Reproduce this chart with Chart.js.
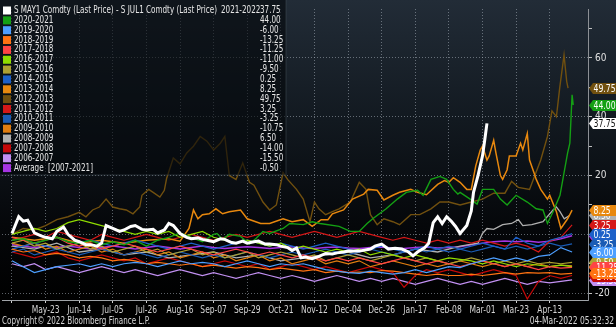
<!DOCTYPE html>
<html>
<head>
<meta charset="utf-8">
<script src="https://cdn.jsdelivr.net/npm/chart.js@4.4.0/dist/chart.umd.min.js"></script>
<style>
  html, body { margin: 0; padding: 0; background: #000; }
</style>
</head>
<body>
<canvas id="spread" width="616" height="327"></canvas>
<script>
// x axis = trading day of the season, one date label every 15 trading days
var xLabels = ["", "May-23", "Jun-14", "Jul-05", "Jul-26", "Aug-16", "Sep-07", "Sep-29", "Oct-21",
               "Nov-12", "Dec-04", "Dec-26", "Jan-17", "Feb-08", "Mar-01", "Mar-23", "Apr-13"];
var labelEvery = 15;
var yTicks = [-20, -10, 0, 10, 20, 30, 40, 50, 60, 70];
var step = 5; // spacing of the weekly series below

var seasons = ["2021-2022", "2020-2021", "2019-2020", "2018-2019", "2017-2018", "2016-2017", "2015-2016",
               "2014-2015", "2013-2014", "2012-2013", "2011-2012", "2010-2011", "2009-2010", "2008-2009",
               "2007-2008", "2006-2007", "Average"];

// [trading day, spread]
var s2122 = [[0,0.3],[3,6],[5,4.5],[7,4.8],[10,0.5],[13,-0.5],[15,-1],[18,-1.5],[20,1],[23,2.5],[25,0],[28,-2],
  [30,-2.5],[33,-3.5],[35,-3.5],[38,-4],[40,-3],[42,3],[45,2],[48,1],[50,1.5],[53,2.7],[55,3],[58,1.7],[60,1.5],
  [63,1.7],[65,0.5],[68,1.5],[70,3.7],[72,3],[75,0.3],[78,-1],[80,-1.5],[83,-1.2],[85,-1.7],[88,-2.2],[90,-2.5],
  [93,-1.5],[95,-1.7],[98,-2.8],[100,-3],[103,-2.3],[105,-3],[108,-2.5],[110,-2.3],[113,-3.3],[115,-3.3],
  [118,-3.5],[120,-4],[123,-4.5],[125,-5.5],[127,-4.7],[129,-8],[131,-7.7],[134,-8.3],[137,-7.5],[140,-6.5],
  [143,-6.7],[145,-6.3],[148,-6],[150,-5.7],[155,-5.7],[160,-5],[162,-4],[165,-3.3],[168,-5],[171,-4.7],
  [174,-5],[177,-6],[179,-7.3],[181,-6],[184,-4.7],[186,-3],[188,4],[190,6],[192,3.7],[194,6],[196,4.5],
  [198,2.7],[200,0.3],[203,3],[205,8],[206,14.3],[208,20],[210,26.7],[211,32],[212,37.75]];

var s2021 = [[0,-2],[5,-1.5],[10,-3],[15,-2],[20,-1],[25,-2.5],[30,-3],[35,-2],[40,-3.5],[45,-2.5],[50,-3.5],
  [55,-2],[60,-4],[65,-2],[70,-1],[75,0.5],[80,-1],[85,-2.5],[90,0],[91.5,0.3],[94,-1.7],[97,0],[102,-0.7],
  [106,-3.3],[109,-1.3],[112,1],[115,0.3],[121,2],[124,3.7],[130,3.3],[134,4.3],[137.5,3.7],[146,2.7],[151,1],
  [155,1],[158.5,3.7],[161,5.3],[167,8.7],[172,12],[176,14.3],[181,15],[183.5,13.3],[187,18.7],[191,19.7],
  [194,18.7],[197,15.3],[199,13.7],[200,14.3],[204.5,12],[207.6,10.3],[210,15.3],[215,15.3],[218,12],[221,10],
  [225,13.3],[230,11],[234,8.7],[237,8.3],[239,3.7],[241.5,7.7],[244.6,13.3],[248,27.7],[249,31],[250,47.5],
  [250.5,44]];

var s1314 = [[0,-1],[10,-2],[20,-1],[30,-3],[40,-2],[50,-3],[60,-2],[70,-1.5],[75,-2.3],[79,2],[81,8.3],[83,5.3],
  [85,6.7],[88,7],[91,8.7],[94,7],[97,7.7],[102,8.3],[105,5.3],[111,3.7],[115,3.7],[121,5.3],[125,4.3],[130,5],
  [134,2.7],[138,5],[141,5],[143,7],[148,8.3],[152,12],[157,13.7],[159,15.3],[163,15],[166,11.7],[170,13.3],
  [173,14.3],[178,15.3],[181,14.3],[185,13.5],[190,17],[193,18.3],[195,17.7],[197,19.3],[200,17.7],[203,15.3],
  [205,15.3],[207,23.3],[209,28.7],[210,30],[212,25.3],[213,26.7],[215,32],[216,27.7],[218,20],[219,18.7],
  [221,22],[222,26.7],[225,26.7],[227,31],[228,28.7],[230,34.3],[231,25.3],[233,21],[234,18.7],[236,15.3],
  [239,12],[240,13.3],[243,7.7],[245,2],[248,5.3],[250,8.25]];

var s1213 = [[0,0],[5,2],[10,1.5],[15,3],[20,5],[25,6],[30,7.5],[33,6],[36,8.3],[39,9.3],[42,12],[45,9.3],
  [48,8.7],[51,8.3],[54,7],[57,9.3],[58,13.3],[61,15.3],[63,14.3],[66,12.7],[68,15],[69,19],[72,26],[75,24],
  [78,27.7],[81,30],[84,33.3],[87,31.7],[90,28.7],[93,31],[95,33.3],[97,20],[100,18.7],[103,24.3],[106,17.7],
  [108,16.7],[112,11],[115,8.3],[118,10],[121,21],[123,18.7],[127,15.3],[130,12],[133,4.3],[135,11],[137,8.7],
  [140,6.7],[143,7.7],[146,8.7],[151,11],[155,17.7],[158,15.3],[160,6.7],[163,3.3],[166,5.3],[170,4.3],
  [173,3.3],[178,6.7],[182,6.7],[187,8.7],[191,11],[195,11],[200,10],[205,11],[210,12],[215,14],[220,14],
  [223,18],[226,16],[231,15.3],[236,25.3],[239,33.3],[241,42],[243,40],[244.5,50],[246.4,61],[247.6,52],
  [248.2,49.75]];

var s0809 = [[0,-4],[10,-5],[20,-3],[30,-6],[40,-5],[50,-7],[60,-6],[70,-8],[80,-7],[90,-6],[100,-8],[110,-7],
  [120,-9],[130,-8],[140,-7],[150,-6],[160,-8],[170,-7],[180,-5],[190,-6],[200,-4],[208,-3],[210,0.3],[212,2],
  [215,1.7],[219,3.3],[223,3.7],[226,5],[228,3],[232,3.3],[237,4.3],[241.5,8.3],[243,9.3],[244.6,7.7],
  [246.5,5.3],[249,6.5]];

// weekly values, every 5 trading days
var s1920 = [-9,-11,-13,-12,-11,-10.5,-10,-11,-10,-11, -10,-9.5,-10,-11,-10,-9,-10,-9.5,-10,-11,
  -10,-9,-10,-11,-10,-10.5,-10,-11,-12,-12.5, -13,-13.3,-12.5,-13,-13.5,-13,-12,-13,-12,-11,
  -11.3,-10,-9,-8,-9,-8,-9,-7.5,-7,-4.5,-6];
var s1819 = [-5,-6,-5.5,-7,-6.5,-7,-8,-7.5,-8,-9, -8.5,-9,-10,-9.5,-10,-10.5,-10,-11,-10.5,-11,
  -11.5,-11,-11.3,-12,-11.5,-12,-12.5,-12,-13,-12.5, -13,-12.8,-13,-12.3,-12.5,-13,-13.5,-14,-13.5,-14,
  -14,-13.5,-14,-13.5,-13,-13.5,-13,-13.2,-13,-13.5,-13.25];
var s1718 = [-1,-2,-3,-2,-1,-3,-4,-3,-5,-4, -3,-4,-5,-6,-5,-4,-5,-6,-7,-6, -5,-6,-7,-6,-7,-8,-7,-8,-9,-8,
  -9,-8,-9,-10,-9,-8,-9,-10,-9,-10, -11,-10,-9,-10,-11,-10,-11,-12,-11,-11.5,-11.25];
var s1617 = [0,1,2,1,2,4,5,4,3,2, 1,0,1,0,1,-1,0,1,-1,-2, -3,-2,-3,-4,-3,-5,-4,-5,-6,-5,
  -6,-5,-7,-6,-7,-8,-7,-8,-9,-8, -8.5,-9,-10,-9,-10,-11,-10,-10.5,-11,-10.5,-11];
var s1516 = [-3,-2,-4,-3,-5,-4,-3,-5,-4,-6, -5,-4,-6,-5,-7,-6,-5,-7,-6,-8, -7,-6,-8,-7,-6,-7,-8,-7,-9,-8,
  -7,-8,-9,-8,-7,-8,-9,-8,-9,-10, -9,-8,-9,-10,-9,-10,-9,-10,-9.5,-10,-9.5];
var s1415 = [-5,-4,-3,-4,-5,-4,-3,-2,-3,-4, -3,-2,-3,-4,-5,-4,-3,-4,-5,-4, -3,-2,-3,-4,-3,-4,-5,-4,-3,-4,
  -5,-6,-5,-4,-5,-6,-5,-4,-5,-6, -5,-4,-3,-4,-5,-1,-3,-4,-2,-1,0.25];
var s1112 = [-2,-1,0,-1,1,0,-1,-2,0,-1, -2,-1,0,-1,-2,-1,0,-1,-2,-1, 0,-1,0,1,0,-1,0,1,0,-1,
  0,1,0,-1,-2,-1,-2,-3,-2,-3, -2,-3,-2,-3,-4,-3,-4,-6,-2.3,-1,3.25];
var s1011 = [-6,-5,-7,-6,-5,-6,-7,-6,-5,-6, -7,-6,-7,-8,-7,-6,-7,-8,-7,-8, -7,-6,-7,-8,-7,-6,-7,-6,-5,-6,
  -7,-6,-5,-6,-7,-6,-5,-6,-5,-4, -5,-6,-5,-4,-5,-4,-5,-4,-3,-4,-3.25];
var s0910 = [-3,-4,-3,-5,-4,-6,-5,-4,-6,-5, -7,-6,-5,-7,-6,-8,-7,-6,-8,-7, -9,-8,-7,-9,-8,-10,-9,-8,-10,-9,
  -10,-9,-11,-10,-9,-10,-11,-10,-11,-10, -9,-10,-11,-10,-11,-10,-11,-10,-11,-10.5,-10.75];
var s0708 = [-6,-7,-8,-7,-6,-8,-9,-8,-7,-8, -9,-8,-10,-9,-8,-9,-10,-11,-10,-9, -10,-11,-10,-12,-11,-10,-11,-12,-11,-12,
  -13,-12,-11,-12,-13,-18,-14,-12,-13,-12, -13,-14,-13,-12,-13,-14,-22,-16,-14,-15,-14];
var s0607 = [-10,-11,-10,-12,-11,-12,-13,-12,-11,-12, -13,-12,-13,-14,-13,-12,-13,-14,-13,-14,
  -15,-14,-13,-14,-15,-14,-15,-16,-15,-14, -15,-16,-15,-16,-15,-16,-17,-16,-15,-16,
  -17,-16,-17,-16,-15,-16,-17,-16,-16.5,-16,-15.5];
var sAvg = [-3.5,-4,-4.5,-4,-4.5,-4,-4.5,-5,-4.5,-4, -4.5,-5,-4.5,-4,-4.5,-5,-4.5,-4,-4.5,-4.8,
  -4.5,-4.2,-4.5,-4.8,-4.5,-4.2,-4.6,-4.8,-4.5,-4.3, -4.6,-4.8,-4.5,-4.3,-4.6,-4.8,-4.5,-4.3,-4.6,-4.5,
  -4.2,-3.5,-3,-2.5,-2.3,-2.5,-2.3,-2.7,-2.3,-1.5,-0.5];

function pairs(p) { return p.map(function (d) { return { x: d[0], y: d[1] }; }); }
function weekly(v) { return v.map(function (y, i) { return { x: i * step, y: y }; }); }

var series = [pairs(s2122), pairs(s2021), weekly(s1920), weekly(s1819), weekly(s1718), weekly(s1617),
              weekly(s1516), weekly(s1415), pairs(s1314), pairs(s1213), weekly(s1112), weekly(s1011),
              weekly(s0910), pairs(s0809), weekly(s0708), weekly(s0607), weekly(sAvg)];

var colors = ["#ffffff", "#14a014", "#4d9fff", "#ff7312", "#ff4444", "#8fdc00", "#aea032", "#1d60c8",
              "#e8880e", "#71500f", "#d41818", "#1a5cb5", "#e07d10", "#b0b0b0", "#c40808", "#c290f2", "#a534e2"];
var widths = [3, 1.4, 1.2, 1.2, 1.2, 1.2, 1.2, 1.2, 1.5, 1.4, 1.2, 1.2, 1.2, 1.3, 1.2, 1.2, 1.5];

var FONT = '"Liberation Sans Narrow", "DejaVu Sans Condensed", "Liberation Sans", sans-serif';
Chart.defaults.font.family = FONT;

var datasets = series.map(function (d, i) {
  return { label: seasons[i], data: d, borderColor: colors[i], borderWidth: widths[i],
           pointRadius: 0, tension: 0, fill: false };
});

// squeezed text, the terminal font is narrow
function narrow(c, text, x, y, sx) {
  c.save();
  c.translate(x, y);
  c.scale(sx, 1);
  c.fillText(text, 0, 0);
  c.restore();
}

var bloomberg = {
  id: 'bloomberg',
  beforeDraw: function (chart) {
    var c = chart.ctx;
    var g = c.createLinearGradient(0, 0, 0, 300);
    g.addColorStop(0, '#222c37');
    g.addColorStop(0.4, '#121920');
    g.addColorStop(0.75, '#05070a');
    g.addColorStop(1, '#000000');
    c.save();
    c.fillStyle = g;
    c.fillRect(0, 0, chart.width, chart.height);
    c.restore();
  },
  afterDatasetsDraw: function (chart) {
    // legend box
    var c = chart.ctx;
    c.save();
    c.fillStyle = 'rgba(4,7,10,0.6)';
    c.fillRect(0, 0, 286, 175);
    c.strokeStyle = 'rgba(70,80,90,0.5)';
    c.lineWidth = 1;
    c.strokeRect(-0.5, -0.5, 286.5, 175.5);
    c.font = '10px ' + FONT;
    c.textBaseline = 'middle';
    var title = 'S MAY1 Comdty (Last Price) - S JUL1 Comdty (Last Price)';
    var sx = 203 / c.measureText(title).width;
    seasons.forEach(function (s, i) {
      var y = 10.5 + i * 9.85;
      c.fillStyle = colors[i];
      c.fillRect(3, y - 4, 8, 8);
      c.fillStyle = '#e6e6e6';
      if (i === 0) {
        narrow(c, title, 14, y, sx);
        narrow(c, s, 221, y, sx);
      } else if (s === 'Average') {
        narrow(c, 'Average', 14, y, sx);
        narrow(c, '[2007-2021]', 48, y, sx);
      } else {
        narrow(c, s, 14, y, sx);
      }
      var d = series[i];
      narrow(c, d[d.length - 1].y.toFixed(2), 260, y, sx);
    });
    c.restore();
  },
  afterDraw: function (chart) {
    var c = chart.ctx, ys = chart.scales.y, xs = chart.scales.x;
    c.save();
    c.font = '10px ' + FONT;
    c.textBaseline = 'middle';
    for (var i = series.length - 1; i >= 0; i--) {
      var d = series[i];
      var v = d[d.length - 1].y;
      var y = Math.round(ys.getPixelForValue(v)) + 0.5;
      c.fillStyle = colors[i];
      c.beginPath();
      c.moveTo(589, y);
      c.lineTo(593, y - 5.5);
      c.lineTo(620, y - 5.5);
      c.lineTo(620, y + 5.5);
      c.lineTo(593, y + 5.5);
      c.closePath();
      c.fill();
      c.fillStyle = i === 0 ? '#111111' : '#ffffff';
      narrow(c, v.toFixed(2), 593.5, y + 0.5, 0.86);
    }
    // date labels under the x axis
    c.font = '10px ' + FONT;
    c.fillStyle = '#d4d4d4';
    c.textBaseline = 'alphabetic';
    c.textAlign = 'center';
    xLabels.forEach(function (l, i) {
      narrow(c, l, xs.getPixelForValue(i * labelEvery), 313, 0.84);
    });
    // footer
    c.fillStyle = '#d6d6d6';
    c.textAlign = 'left';
    narrow(c, 'Copyright\u00a9 2022 Bloomberg Finance L.P.', 2, 324, 0.8);
    c.textAlign = 'right';
    narrow(c, '04-Mar-2022 05:32:32', 614, 324, 0.84);
    c.restore();
  }
};

var dots = 'rgba(165,175,185,0.55)';

new Chart(document.getElementById('spread'), {
  type: 'line',
  data: { datasets: datasets },
  options: {
    responsive: false,
    animation: false,
    events: [],
    layout: { padding: { left: 2, top: 3, right: 0, bottom: 14 } },
    plugins: { legend: { display: false }, tooltip: { enabled: false } },
    scales: {
      x: {
        type: 'linear',
        min: -4.46,
        max: 257.1,
        afterBuildTicks: function (s) {
          s.ticks = xLabels.map(function (l, i) { return { value: i * labelEvery }; });
        },
        afterFit: function (s) { s.height = 13; },
        ticks: { display: false },
        grid: { color: dots, tickLength: 3, tickColor: '#cfcfcf' },
        border: { color: '#a0a4a8', dash: [1, 2] }
      },
      y: {
        type: 'linear',
        position: 'right',
        min: -22.33,
        max: 76.67,
        afterBuildTicks: function (s) {
          s.ticks = yTicks.map(function (v) { return { value: v }; });
        },
        afterFit: function (s) { s.width = 28; },
        ticks: {
          padding: 3, color: '#e0e0e0', font: { size: 10 },
          callback: function (v) { return (v % 20 === 0 && v <= 60) ? String(v) : ''; }
        },
        grid: {
          color: function (c) { return c.tick && c.tick.value % 20 === 0 ? dots : 'transparent'; },
          tickLength: 4, tickColor: '#bfbfbf'
        },
        border: { color: '#8c9095', dash: [1, 2] }
      }
    }
  },
  plugins: [bloomberg]
});
</script>
</body>
</html>
